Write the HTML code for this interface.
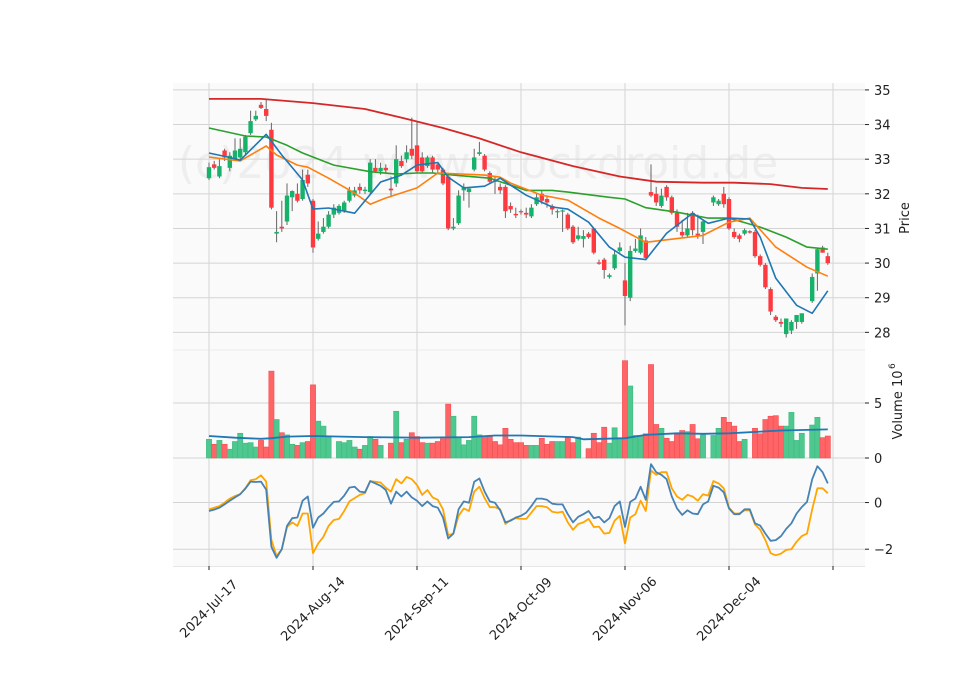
<!DOCTYPE html>
<html><head><meta charset="utf-8"><style>
html,body{margin:0;padding:0;background:#fff;}
svg{display:block;font-family:"DejaVu Sans","Liberation Sans",sans-serif;}
</style></head><body>
<svg id="chart" width="960" height="690" viewBox="0 0 960 690" xmlns="http://www.w3.org/2000/svg"></svg>
<script>
const opens=[32.45,32.85,32.5,33.25,32.75,33.0,33.05,33.2,33.75,34.15,34.57,34.45,33.85,30.85,31.05,31.2,31.9,32.0,31.85,32.55,31.8,30.7,30.9,31.05,31.4,31.45,31.5,31.8,31.95,32.2,32.08,32.05,32.75,32.65,32.75,32.15,32.3,32.95,33.0,33.3,33.4,33.05,32.8,33.05,32.85,32.7,32.5,31.0,31.15,32.1,32.05,32.7,33.15,33.1,32.6,32.38,32.2,32.2,31.65,31.42,31.5,31.45,31.35,31.7,32.0,31.85,31.65,31.48,31.5,31.4,31.05,30.7,30.7,30.85,31.0,30.02,30.1,29.6,29.85,30.35,29.5,29.0,30.35,30.3,30.65,32.05,32.0,31.65,32.2,31.9,31.45,30.9,30.8,31.45,30.85,30.9,null,31.75,31.7,32.0,31.85,30.9,30.8,30.85,30.92,30.9,30.2,29.95,29.25,28.45,28.3,27.95,28.05,28.3,28.3,null,28.9,29.7,30.45,30.2];
const highs=[32.9,32.95,33.0,33.3,33.2,33.6,33.6,33.7,34.4,34.4,34.65,34.75,34.05,31.5,31.8,32.3,32.1,32.3,32.7,32.7,31.85,31.2,31.3,31.5,31.7,31.7,31.8,32.2,32.2,32.3,32.2,33.0,33.0,32.9,32.85,32.5,33.4,33.1,33.4,34.2,34.1,33.2,33.1,33.1,32.9,32.75,32.55,31.3,32.1,32.3,32.2,33.3,33.5,33.15,32.65,32.5,32.3,32.25,31.75,31.6,31.55,31.6,31.7,32.0,32.1,31.95,31.7,31.55,31.55,31.45,31.1,31.05,30.95,30.9,31.0,30.1,30.15,29.7,30.35,30.6,30.0,30.5,30.7,31.0,30.75,32.85,32.2,32.15,32.25,31.95,31.55,31.25,31.45,31.5,31.4,31.25,null,31.95,31.85,32.2,31.9,31.0,30.85,31.0,30.95,30.95,30.25,30.0,29.3,28.5,28.4,28.4,28.35,28.5,28.55,null,29.7,30.45,30.5,30.3];
const lows=[32.4,32.7,32.45,32.95,32.65,32.95,33.0,33.1,33.7,34.1,34.45,34.1,31.55,30.6,30.9,31.1,31.5,31.75,31.8,32.2,30.3,30.65,30.85,31.0,31.3,31.4,31.45,31.75,31.9,32.0,32.0,32.0,32.6,32.55,32.6,31.9,32.2,32.75,32.9,33.0,32.6,32.6,32.75,32.6,32.6,32.25,30.95,30.95,31.1,31.8,31.6,32.65,33.1,32.65,32.3,32.0,32.0,31.3,31.45,31.3,31.4,31.3,31.3,31.65,31.7,31.6,31.4,31.3,30.9,30.95,30.55,30.65,30.45,30.7,30.25,29.95,29.55,29.55,29.8,30.3,28.2,28.9,30.3,30.25,30.1,31.9,31.65,31.6,31.8,31.4,30.9,30.75,30.75,30.8,30.7,30.55,null,31.65,31.65,31.6,30.95,30.7,30.6,30.8,30.85,30.15,29.9,29.25,28.5,28.3,28.15,27.85,27.95,28.1,28.25,null,28.85,29.2,30.3,29.95];
const closes=[32.77,32.75,32.8,33.05,33.1,33.25,33.3,33.65,34.1,34.25,34.48,34.25,31.6,30.9,31.0,31.95,32.08,31.8,32.4,32.3,30.45,30.85,31.05,31.4,31.6,31.65,31.75,32.1,32.1,32.1,32.12,32.9,32.65,32.75,32.68,32.1,33.0,32.8,33.2,33.1,32.65,32.65,33.05,32.7,32.7,32.3,31.0,31.05,31.95,32.2,32.15,33.05,33.2,32.7,32.35,32.35,32.1,31.5,31.55,31.38,31.48,31.4,31.6,31.9,31.8,31.75,31.55,31.5,31.52,31.0,30.6,30.8,30.78,30.75,30.3,29.98,29.8,29.65,30.25,30.45,29.05,30.35,30.42,30.8,30.15,31.95,31.75,31.95,31.9,31.45,31.05,30.8,31.0,30.95,30.8,31.2,null,31.9,31.8,31.7,31.0,30.75,30.7,30.95,30.88,30.2,29.95,29.3,28.6,28.35,28.25,28.4,28.3,28.5,28.55,null,29.6,30.4,30.3,30.0];
const volumes=[1.7,1.25,1.6,1.25,0.8,1.5,2.25,1.35,1.4,1.0,1.6,1.0,7.9,3.5,2.3,2.1,1.25,1.15,1.4,1.5,6.65,3.35,2.9,1.9,0,1.5,1.4,1.6,1.0,0.8,1.15,1.95,1.7,1.15,0,1.35,4.25,1.4,1.7,2.3,1.95,1.4,1.35,1.35,1.5,1.75,4.9,3.8,1.9,1.2,1.6,3.8,2.1,1.95,1.95,1.5,1.2,2.7,1.7,1.4,1.4,1.15,1.15,1.15,1.8,1.25,1.5,1.5,1.5,1.95,1.4,1.9,0,0.85,2.25,1.4,2.8,1.35,2.75,1.8,8.85,6.55,2.05,2.05,2.2,8.5,3.05,2.7,1.8,1.5,2.15,2.5,2.4,3.05,1.75,2.1,0,2.05,2.7,3.7,3.25,2.9,1.5,1.7,0,2.7,2.2,3.5,3.8,3.85,2.9,2.9,4.15,1.6,2.25,0,3.0,3.7,1.85,2.0];
const volMaIdx=[0,5,10,12,15,20,30,40,50,55,60,70,72,80,84,90,95,100,110,119];
const volMaVals=[2.0,1.85,1.75,1.8,1.95,2.0,1.9,1.85,1.9,2.05,2.05,1.9,1.7,1.8,2.1,2.25,2.2,2.25,2.5,2.6];
const ma1Idx=[0,4,6,11,14,18,20,23,28,33,37,40,44,46,49,53,56,58,61,66,69,73,77,80,84,88,93,96,100,104,106,109,113,116,119];
const ma1Vals=[33.18,33.05,32.97,33.72,33.12,32.4,31.56,31.59,31.44,32.34,32.54,32.83,32.9,32.48,32.17,32.22,32.45,32.25,31.96,31.62,31.56,31.18,30.46,30.17,30.1,30.86,31.44,31.15,31.3,31.27,30.75,29.56,28.78,28.55,29.2];
const ma2Idx=[0,6,11,13,17,19,23,28,31,34,40,44,53,56,58,64,69,75,79,84,95,100,104,109,115,119];
const ma2Vals=[33.06,32.95,33.38,33.12,32.83,32.77,32.45,32.02,31.7,31.88,32.17,32.6,32.54,32.48,32.31,31.96,31.82,31.3,31.0,30.6,30.8,31.18,31.3,30.46,29.88,29.62];
const ma3Idx=[0,7,11,15,18,24,31,36,40,43,47,54,61,66,69,77,80,84,90,96,100,106,111,115,119];
const ma3Vals=[33.9,33.67,33.64,33.4,33.18,32.83,32.64,32.57,32.6,32.6,32.54,32.45,32.1,32.1,32.05,31.9,31.85,31.6,31.47,31.3,31.3,31.04,30.75,30.46,30.4];
const ma4Idx=[0,10,20,30,37,45,52,60,70,79,86,95,101,108,114,119];
const ma4Vals=[34.74,34.74,34.62,34.45,34.2,33.9,33.6,33.2,32.8,32.5,32.35,32.32,32.32,32.28,32.17,32.14];
const osc1=[-0.36,-0.3,-0.22,-0.08,0.08,0.22,0.36,0.6,0.9,0.88,0.9,0.55,-1.9,-2.37,-2.0,-1.0,-0.67,-0.64,0.08,0.26,-1.08,-0.64,-0.47,-0.2,0.03,0.05,0.3,0.64,0.68,0.47,0.44,0.92,0.82,0.72,0.54,-0.05,0.47,0.26,0.47,0.22,0.08,-0.15,0.05,-0.15,-0.22,-0.64,-1.54,-1.33,-0.29,0.05,-0.01,0.89,1.03,0.47,0.05,-0.01,-0.33,-0.85,-0.78,-0.64,-0.57,-0.43,-0.15,0.17,0.17,0.12,-0.05,-0.08,-0.08,-0.5,-0.85,-0.61,-0.5,-0.36,-0.67,-0.61,-0.85,-0.67,-0.15,0.05,-1.05,0.03,0.17,0.68,0.12,1.65,1.3,1.19,1.0,0.26,-0.25,-0.53,-0.33,-0.47,-0.5,-0.08,0.05,0.72,0.64,0.44,-0.25,-0.5,-0.5,-0.29,-0.29,-0.89,-0.99,-1.33,-1.64,-1.61,-1.44,-1.13,-0.89,-0.47,-0.19,0.03,1.0,1.56,1.3,0.82];
const osc2=[-0.29,-0.22,-0.15,0.0,0.17,0.28,0.36,0.62,0.96,1.0,1.17,0.9,-1.6,-2.3,-2.0,-1.05,-0.85,-1.0,-0.47,-0.47,-2.17,-1.75,-1.47,-1.0,-0.75,-0.7,-0.36,0.05,0.19,0.33,0.4,0.92,0.89,0.86,0.64,0.47,1.0,0.82,1.1,1.0,0.75,0.33,0.54,0.22,0.12,-0.29,-1.4,-1.33,-0.57,-0.25,-0.36,0.47,0.68,0.19,-0.2,-0.2,-0.29,-0.92,-0.75,-0.67,-0.7,-0.7,-0.43,-0.15,-0.15,-0.2,-0.39,-0.43,-0.39,-0.85,-1.17,-0.92,-0.85,-0.7,-1.05,-1.03,-1.33,-1.3,-0.78,-0.57,-1.75,-0.64,-0.5,0.08,-0.36,1.38,1.19,1.3,1.3,0.61,0.26,0.12,0.33,0.26,0.08,0.36,0.3,0.92,0.82,0.61,-0.22,-0.47,-0.47,-0.33,-0.33,-0.94,-1.17,-1.61,-2.17,-2.26,-2.19,-2.03,-2.0,-1.68,-1.44,-1.33,-0.29,0.61,0.61,0.4];
const priceTicks=[28,29,30,31,32,33,34,35];
const volTicks=[0,5];
const oscTicks=[0,-2];
const xTickIdx=[0,20,40,60,80,100,120];
const xTickLabels=["2024-Jul-17","2024-Aug-14","2024-Sep-11","2024-Oct-09","2024-Nov-06","2024-Dec-04",""];

const NS="http://www.w3.org/2000/svg";
const svg=document.getElementById('chart');
const L=173,R=865;
const P={top:83,bot:350,min:27.49,max:35.2};
const V={top:350,bot:458,min:0,max:9.82};
const O={top:458,bot:566,min:-2.72,max:1.91};
const xOf=i=>209+5.2*i;
const yP=v=>P.bot-(v-P.min)/(P.max-P.min)*(P.bot-P.top);
const yV=v=>V.bot-(v-V.min)/(V.max-V.min)*(V.bot-V.top);
const yO=v=>O.bot-(v-O.min)/(O.max-O.min)*(O.bot-O.top);
function mk(tag,attrs,parent){const e=document.createElementNS(NS,tag);for(const k in attrs)e.setAttribute(k,attrs[k]);(parent||svg).appendChild(e);return e;}

const bg=mk('rect',{x:L,y:P.top,width:R-L,height:O.bot-P.top,fill:'#fafafa'});


mk('line',{x1:L,x2:R,y1:350,y2:350,stroke:'#ececec','stroke-width':1});
mk('line',{x1:L,x2:R,y1:458,y2:458,stroke:'#ececec','stroke-width':1});
mk('line',{x1:L,x2:R,y1:566.5,y2:566.5,stroke:'#e6e6e6','stroke-width':1});

// watermark
const wm=mk('text',{x:478,y:178,'text-anchor':'middle','font-size':44,fill:'#e9e9e9','fill-opacity':0.75});
wm.textContent='(c)2024 www.stockdroid.de';



// grid
xTickIdx.forEach((i,k)=>{
  const x=xOf(i);
  const g=mk('line',{x1:x,x2:x,y1:P.top,y2:O.bot,stroke:'#d4d4d4','stroke-width':1});
  
  
  mk('line',{x1:x,x2:x,y1:O.bot,y2:O.bot+4,stroke:'#222','stroke-width':1});
  if(xTickLabels[k]){
    const t=mk('text',{x:x,y:613,'text-anchor':'middle','font-size':13,fill:'#222',transform:`rotate(-45 ${x} 609)`});
    t.textContent=xTickLabels[k];
    
    
  }
});
function yTicks(ticks,yf,name){
  ticks.forEach(v=>{
    const y=yf(v);
    const g=mk('line',{x1:L,x2:R,y1:y,y2:y,stroke:'#d4d4d4','stroke-width':1});
    
    
    mk('line',{x1:R,x2:R+4,y1:y,y2:y,stroke:'#222','stroke-width':1});
    const t=mk('text',{x:R+9,y:y+5,'font-size':13,fill:'#222'});
    t.textContent=String(v).replace('-','\u2212');
    
    
  });
}
yTicks(priceTicks,yP,'price');
yTicks(volTicks,yV,'volume');
yTicks(oscTicks,yO,'oscillator');

// volume bars
volumes.forEach((v,i)=>{
  if(!v||opens[i]==null)return;
  const up=closes[i]>=opens[i];
  const b=mk('rect',{x:xOf(i)-2.6,y:yV(v),width:5.2,height:yV(0)-yV(v),fill:up?'#4ec88f':'#ff6466',stroke:up?'#3dbb80':'#f24e52','stroke-width':0.6});
  
  
});
function line(idx,vals,yf,color,w,name){
  const pts=idx.map((i,k)=>xOf(i).toFixed(1)+','+yf(vals[k]).toFixed(1)).join(' ');
  const p=mk('polyline',{points:pts,fill:'none',stroke:color,'stroke-width':w,'stroke-linejoin':'round'});
  
  
}
line(volMaIdx,volMaVals,yV,'#1f77b4',1.8,'volume-moving-average');

// candles
opens.forEach((o,i)=>{
  if(o==null)return;
  const c=closes[i],h=highs[i],l=lows[i],x=xOf(i);
  const up=c>=o;
  const col=up?'#17b26a':'#fe3a40';
  const w=mk('line',{x1:x,x2:x,y1:yP(h),y2:yP(l),stroke:'#666','stroke-width':1});
  
  
  const top=yP(Math.max(o,c)),bh=Math.max(1.2,Math.abs(yP(o)-yP(c)));
  const b=mk('rect',{x:x-2.2,y:top,width:4.4,height:bh,fill:col});
  
  
});
line(ma4Idx,ma4Vals,yP,'#d62728',1.8,'ma-long-red');
line(ma3Idx,ma3Vals,yP,'#2ca02c',1.6,'ma-green');
line(ma2Idx,ma2Vals,yP,'#ff7f0e',1.6,'ma-orange');
line(ma1Idx,ma1Vals,yP,'#1f77b4',1.6,'ma-blue');

// oscillator
const oi=osc1.map((_,i)=>i);
line(oi,osc2,yO,'#ffa500',1.8,'oscillator-orange-line');
line(oi,osc1,yO,'#4682b4',1.8,'oscillator-blue-line');

// axis labels
const pl=mk('text',{x:909,y:218,'text-anchor':'middle','font-size':13,fill:'#222',transform:'rotate(-90 909 218)'});
pl.textContent='Price';


const vl=mk('text',{x:902,y:405,'text-anchor':'middle','font-size':13,fill:'#222',transform:'rotate(-90 902 405)'});
vl.textContent='Volume  10';


const ex=mk('text',{x:895,y:369,'font-size':9,fill:'#222',transform:'rotate(-90 895 369)'});
ex.textContent='6';


</script>
</body></html>
